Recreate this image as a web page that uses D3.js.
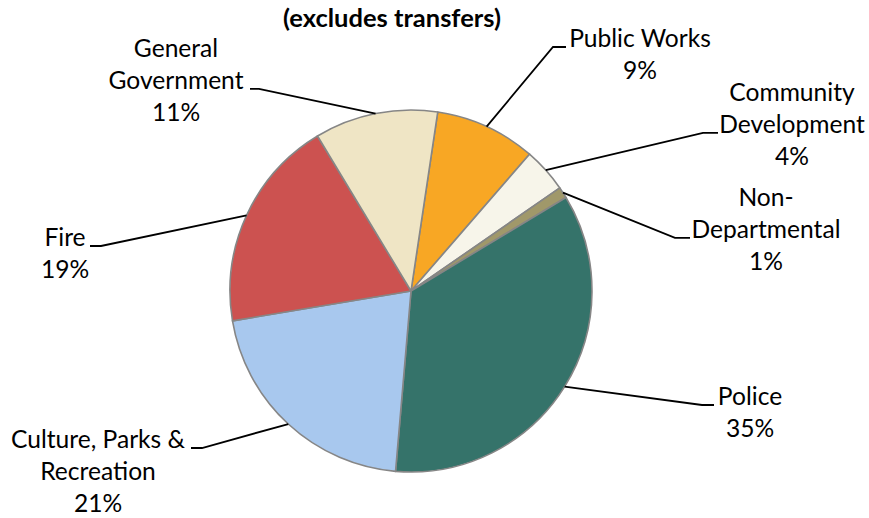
<!DOCTYPE html>
<html>
<head>
<meta charset="utf-8">
<script src="https://cdn.jsdelivr.net/npm/d3@7"></script>
<style>
  html, body { margin: 0; padding: 0; background: #ffffff; }
  svg text { font-family: Lato, "Open Sans", sans-serif; fill: #000; }
</style>
</head>
<body>
<svg id="chart" width="869" height="518"></svg>
<script>
// Expenditure share by department, clockwise from the top
const departments = ["Public Works", "Community Development", "Non-Departmental", "Police",
                     "Culture, Parks & Recreation", "Fire", "General Government"];
const shares = [9, 4, 1, 35, 21, 19, 11];
const labelLines = [["Public Works"], ["Community", "Development"], ["Non-", "Departmental"], ["Police"],
                    ["Culture, Parks &", "Recreation"], ["Fire"], ["General", "Government"]];
const sliceColors = ["#F8A724", "#F7F5EA", "#A0986A", "#35736A", "#A8C8EE", "#CC5250", "#EFE5C5"];
const subtitle = "(excludes transfers)";

// Label placement: text centre x, first baseline y, line that carries the leader stub, stub side
const labelLayout = [
  { x: 640, y: 47,  stubLine: 0, elbowX: 553, stubX: 566 },
  { x: 792, y: 101, stubLine: 1, elbowX: 703, stubX: 718 },
  { x: 766, y: 206, stubLine: 1, elbowX: 675, stubX: 690 },
  { x: 750, y: 405, stubLine: 0, elbowX: 702, stubX: 714 },
  { x: 98,  y: 448, stubLine: 0, elbowX: 202, stubX: 191 },
  { x: 65,  y: 246, stubLine: 0, elbowX: 101, stubX: 90 },
  { x: 176, y: 57,  stubLine: 1, elbowX: 259, stubX: 250 }
];
const lineStep = 31.8;

const svg = d3.select("#chart");
const cx = 411, cy = 291, radius = 181;

svg.append("text")
  .attr("x", 392).attr("y", 27)
  .attr("text-anchor", "middle")
  .style("font-weight", "bold")
  .style("font-size", "25.5px")
  .text(subtitle);

const pie = d3.pie()
  .sort(null)
  .value(d => d)
  .startAngle(8.5 * Math.PI / 180)
  .endAngle(8.5 * Math.PI / 180 + 2 * Math.PI);

const arcs = pie(shares);
const arc = d3.arc().innerRadius(0).outerRadius(radius);
const edge = d3.arc().innerRadius(radius).outerRadius(radius);

const g = svg.append("g").attr("transform", `translate(${cx},${cy})`);

g.selectAll("path.slice")
  .data(arcs)
  .join("path")
  .attr("class", "slice")
  .attr("d", arc)
  .attr("fill", (d, i) => sliceColors[i])
  .attr("stroke", "#868686")
  .attr("stroke-width", 1.6)
  .attr("stroke-linejoin", "round");

// Leader lines from the rim to each label
const leaders = svg.append("g");
arcs.forEach((d, i) => {
  const L = labelLayout[i];
  const [ex, ey] = edge.centroid(d);
  const stubY = L.y + L.stubLine * lineStep;
  leaders.append("polyline")
    .attr("points", [[cx + ex, cy + ey], [L.elbowX, stubY], [L.stubX, stubY]].map(p => p.join(",")).join(" "))
    .attr("fill", "none")
    .attr("stroke", "#000")
    .attr("stroke-width", 1.8);
});

// Labels: name lines followed by the rounded percentage
const fmt = d3.format(".0%");
const total = d3.sum(shares);
const labels = svg.append("g");
arcs.forEach((d, i) => {
  const L = labelLayout[i];
  const lines = labelLines[i].concat([fmt(shares[i] / total)]);
  const t = labels.append("text")
    .attr("text-anchor", "middle")
    .style("font-size", "24.6px");
  lines.forEach((s, k) => {
    t.append("tspan").attr("x", L.x).attr("y", L.y + k * lineStep).text(s);
  });
});
</script>
</body>
</html>
